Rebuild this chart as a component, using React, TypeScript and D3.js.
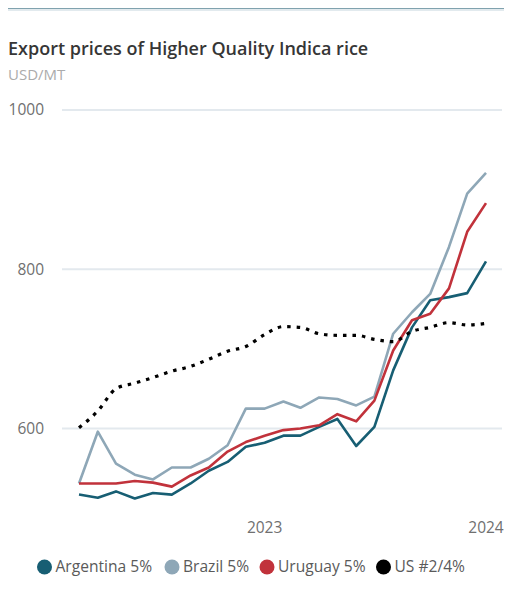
import React, { useEffect, useRef } from "react";
import * as d3 from "d3";

// monthly, Mar 2022 .. Jan 2024
const months = [
  "2022-03", "2022-04", "2022-05", "2022-06", "2022-07", "2022-08", "2022-09",
  "2022-10", "2022-11", "2022-12", "2023-01", "2023-02", "2023-03", "2023-04",
  "2023-05", "2023-06", "2023-07", "2023-08", "2023-09", "2023-10", "2023-11",
  "2023-12", "2024-01",
];

const argentina = [517, 513, 521, 512, 519, 517, 531, 547, 558, 577, 582, 591, 591, 602, 612, 578, 602, 673, 727, 761, 765, 770, 810];
const brazil = [531, 596, 556, 542, 536, 551, 551, 562, 579, 625, 625, 634, 626, 639, 637, 629, 640, 719, 746, 769, 828, 895, 921];
const uruguay = [531, 531, 531, 534, 532, 527, 541, 551, 571, 583, 591, 598, 600, 604, 618, 609, 635, 698, 736, 744, 776, 847, 883];
const us = [601, 622, 650, 657, 664, 672, 678, 687, 697, 703, 718, 728, 727, 719, 717, 717, 712, 709, 722, 727, 733, 730, 732];

const yTicks = [600, 800, 1000];
const xTicks = ["2023-01", "2024-01"];

const series = [
  { name: "Argentina 5%", values: argentina, color: "#175e73", dotted: false },
  { name: "Brazil 5%", values: brazil, color: "#8ea7b7", dotted: false },
  { name: "Uruguay 5%", values: uruguay, color: "#c1323b", dotted: false },
  { name: "US #2/4%", values: us, color: "#000000", dotted: true },
];

const parse = d3.timeParse("%Y-%m");

export default function App() {
  const svgRef = useRef<SVGSVGElement>(null);

  useEffect(() => {
    const width = 512;
    const height = 604;
    const font = "'Open Sans', 'Noto Sans', sans-serif";

    const svg = d3.select(svgRef.current).attr("width", width).attr("height", height);
    svg.selectAll("*").remove();

    // top border
    svg.append("rect").attr("x", 0).attr("y", 8).attr("width", width).attr("height", 3).attr("fill", "#e2eaee");
    svg.append("rect").attr("x", 0).attr("y", 6.5).attr("width", width).attr("height", 2).attr("fill", "#1f5a6e");

    svg
      .append("text")
      .attr("x", 8)
      .attr("y", 55)
      .text("Export prices of Higher Quality Indica rice")
      .attr("font-family", font)
      .attr("font-size", "18px")
      .attr("font-weight", 600)
      .attr("fill", "#363636");

    svg
      .append("text")
      .attr("x", 8)
      .attr("y", 79.5)
      .text("USD/MT")
      .attr("font-family", font)
      .attr("font-size", "15px")
      .attr("fill", "#ababab");

    const x = d3
      .scaleTime()
      .domain([parse(months[0])!, parse(months[months.length - 1])!])
      .range([79, 486]);
    const y = d3.scaleLinear().domain([600, 1000]).range([428.5, 110]);

    // gridlines + labels
    const grid = svg.append("g");
    grid
      .selectAll("line")
      .data(yTicks)
      .enter()
      .append("line")
      .attr("x1", 62)
      .attr("x2", 502)
      .attr("y1", (d) => y(d))
      .attr("y2", (d) => y(d))
      .attr("stroke", "#e3e9ee")
      .attr("stroke-width", 2);
    grid
      .selectAll("text")
      .data(yTicks)
      .enter()
      .append("text")
      .attr("x", 44)
      .attr("y", (d) => y(d))
      .attr("dy", "0.35em")
      .attr("text-anchor", "end")
      .text((d) => d)
      .attr("font-family", font)
      .attr("font-size", "15.5px")
      .attr("fill", "#707070");

    svg
      .append("g")
      .selectAll("text")
      .data(xTicks)
      .enter()
      .append("text")
      .attr("x", (d) => x(parse(d)!))
      .attr("y", 533)
      .attr("text-anchor", "middle")
      .text((d) => d.slice(0, 4))
      .attr("font-family", font)
      .attr("font-size", "15.5px")
      .attr("fill", "#707070");

    const dates = months.map((m) => parse(m)!);

    const lines = svg.append("g");
    series.forEach((s) => {
      const line = d3
        .line<number>()
        .x((d, i) => x(dates[i]))
        .y((d) => y(d))
        .curve(s.dotted ? d3.curveMonotoneX : d3.curveLinear);
      const path = lines
        .append("path")
        .datum(s.values)
        .attr("d", line)
        .attr("fill", "none")
        .attr("stroke", s.color)
        .attr("stroke-linejoin", "round");
      if (s.dotted) {
        path.attr("stroke-width", 3.2).attr("stroke-dasharray", "3.5,6");
      } else {
        path.attr("stroke-width", 2.6);
      }
    });

    // legend
    const legendX = [44.5, 172, 267, 383.5];
    const legend = svg
      .append("g")
      .selectAll("g")
      .data(series)
      .enter()
      .append("g")
      .attr("transform", (d, i) => `translate(${legendX[i]}, 567)`);
    legend.append("circle").attr("r", 7.5).attr("fill", (d) => d.color);
    legend
      .append("text")
      .attr("x", 11)
      .attr("dy", "0.35em")
      .text((d) => d.name)
      .attr("font-family", font)
      .attr("font-size", "15.6px")
      .attr("fill", "#5a5a5a");
  }, []);

  return (
    <div style={{ margin: -8 }}>
      <svg ref={svgRef} style={{ display: "block" }}></svg>
    </div>
  );
}
